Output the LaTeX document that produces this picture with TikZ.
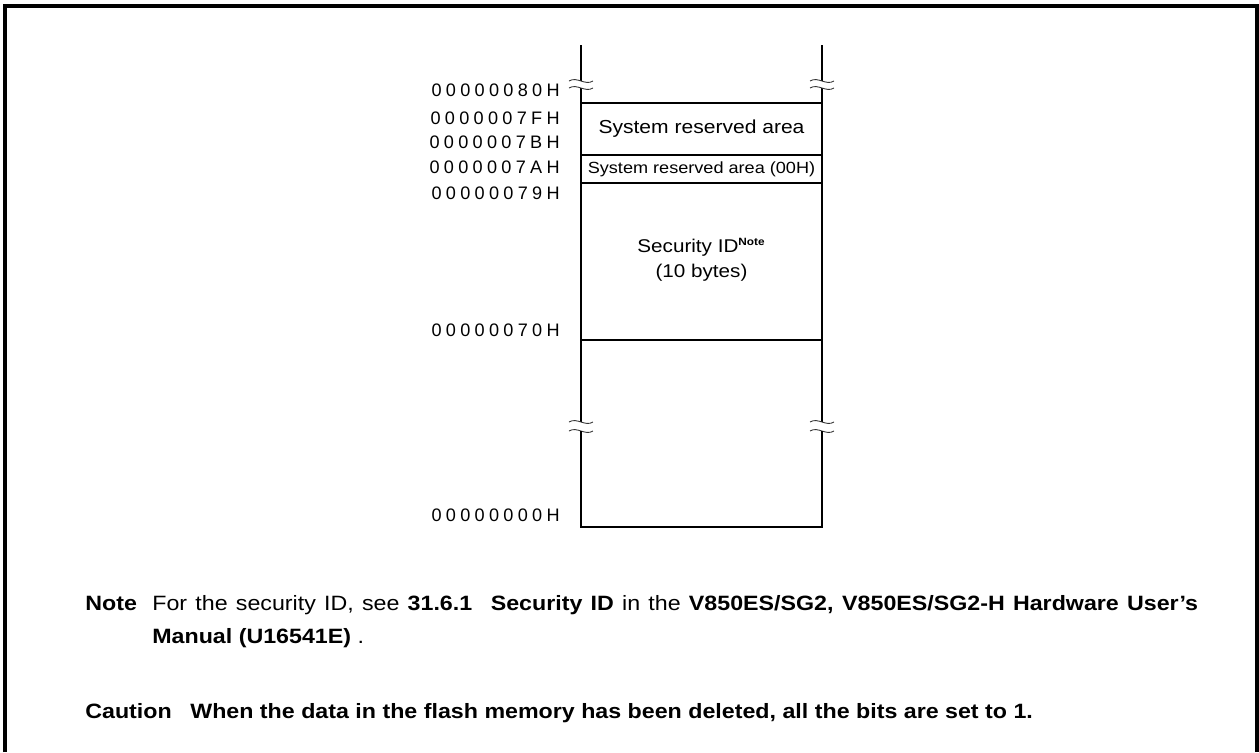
\documentclass[tikz,border=0pt]{standalone}
\usepackage{fontspec}
\setmainfont{Liberation Sans}[FakeStretch=1.12]
\newfontfamily\addrfont{Liberation Sans}
\usetikzlibrary{calc,positioning}

% spread the digits of an address
\makeatletter
\def\addrlabel#1{\addr@first#1\relax}
\def\addr@first#1{#1\addr@next}
\def\addr@next#1{\ifx#1\relax\else\hspace{2.45pt}#1\expandafter\addr@next\fi}
\makeatother

\newcommand\breakmark[2]{%
    \draw[break mark] (#1-12,#2) .. controls (#1-4,#2-5) and (#1+4,#2+5) .. (#1+12,#2);}

\begin{document}
\begin{tikzpicture}[
        x=0.02cm, y=-0.02cm,
        frame line/.style={line width=2pt},
        mem line/.style={line width=1.2pt},
        divider/.style={line width=0.6pt},
        break mark/.style={line width=0.5pt, black!80},
        addr/.style={anchor=east, inner sep=0pt, font=\addrfont\fontsize{10.3}{12}\selectfont},
        area text/.style={align=center, inner sep=0pt},
        note text/.style={anchor=base west, inner sep=0pt, font=\bfseries\fontsize{11.8}{14}\selectfont}
    ]
    \useasboundingbox (0,0) rectangle (1259,752);
    % frame
    \draw[frame line] (5,752) -- (5,6) -- (1257,6) -- (1257,752);

    % memory map
    \foreach \xx in {581,822} {
        \draw[mem line] (\xx,45) -- (\xx,81);
        \draw[mem line] (\xx,88) -- (\xx,422);
        \breakmark{\xx}{81}
        \breakmark{\xx}{88}
        \breakmark{\xx}{422}
        \breakmark{\xx}{431}
    }
    \draw[mem line] (581,431) -- (581,527) -- (822,527) -- (822,431);
    \foreach \yy in {103,155,183,340}
        \draw[divider] (581,\yy) -- (822,\yy);

    % areas
    \node[area text, font=\fontsize{10.7}{13}\selectfont] (sysres) at (701.5,129) {System reserved area};
    \node[area text, font=\fontsize{9.2}{11}\selectfont] (sysres00) at (701.5,169) {System reserved area (00H)};
    \node[area text, font=\fontsize{10.5}{14.2}\selectfont] (secid) at (701.5,260)
        {Security ID\textsuperscript{\bfseries\fontsize{6}{6}\selectfont Note}\\(10 bytes)};

    % addresses
    \node[addr] (a80) at (560,90)  {\addrlabel{00000080H}};
    \node[addr] (a7f) at (560,118) {\addrlabel{0000007FH}};
    \node[addr] (a7b) at (560,142) {\addrlabel{0000007BH}};
    \node[addr] (a7a) at (560,167) {\addrlabel{0000007AH}};
    \node[addr] (a79) at (560,193) {\addrlabel{00000079H}};
    \node[addr] (a70) at (560,330) {\addrlabel{00000070H}};
    \node[addr] (a00) at (560,515) {\addrlabel{00000000H}};

    % note and caution
    \node[note text] (notehead) at (85,610) {Note};
    \node[note text, font=\fontsize{11.8}{14}\selectfont] (noteline) at (152,610)
        {\makebox[20.92cm][s]{For the security ID, see \textbf{31.6.1\enspace\ Security ID} in the
        \textbf{V850ES/SG2, V850ES/SG2-H Hardware User’s}}};
    \node[note text] (notecont) at (152,643) {Manual (U16541E) \mdseries .};
    \node[note text] (cauthead) at (85,718) {Caution};
    \node[note text] (cautline) at (190,718)
        {When the data in the flash memory has been deleted, all the bits are set to 1.};
\end{tikzpicture}
\end{document}
